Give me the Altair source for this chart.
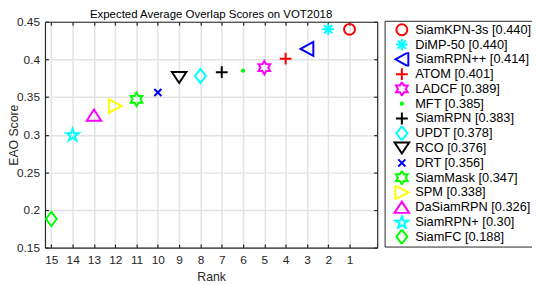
import altair as alt
import pandas as pd

# ---- data ----
names = ["SiamKPN-3s", "DiMP-50", "SiamRPN++", "ATOM", "LADCF", "MFT", "SiamRPN",
         "UPDT", "RCO", "DRT", "SiamMask", "SPM", "DaSiamRPN", "SiamRPN+", "SiamFC"]
ranks = [1, 2, 3, 4, 5, 6, 7, 8, 9, 10, 11, 12, 13, 14, 15]
scores = [0.440, 0.440, 0.414, 0.401, 0.389, 0.385, 0.383, 0.378, 0.376, 0.356,
          0.347, 0.338, 0.326, 0.30, 0.188]
score_text = ["0.440", "0.440", "0.414", "0.401", "0.389", "0.385", "0.383", "0.378",
              "0.376", "0.356", "0.347", "0.338", "0.326", "0.30", "0.188"]
colors = ["#FF0000", "#00FFFF", "#0000FF", "#FF0000", "#FF00FF", "#00FF00", "#000000",
          "#00FFFF", "#000000", "#0000FF", "#00FF00", "#FFFF00", "#FF00FF", "#00FFFF", "#00FF00"]
x_ticks = list(range(1, 16))
y_ticks = [0.15, 0.2, 0.25, 0.3, 0.35, 0.4, 0.45]

# marker shapes (SVG paths, unit ~ 6.5px)
circle = "M0,-0.85A0.85,0.85 0 1,1 0,0.85A0.85,0.85 0 1,1 0,-0.85Z"
asterisk = "M0,-0.9L0,0.9M-0.9,0L0.9,0M-0.64,-0.64L0.64,0.64M-0.64,0.64L0.64,-0.64"
tri_left = "M-1,0L1,-1.1L1,1.1Z"
plus = "M0,-0.92L0,0.92M-0.92,0L0.92,0"
hexagram = ("M0,-1.05L0.303,-0.525L0.909,-0.525L0.606,0L0.909,0.525L0.303,0.525"
            "L0,1.05L-0.303,0.525L-0.909,0.525L-0.606,0L-0.909,-0.525L-0.303,-0.525Z")
dot = "M0,-0.18A0.18,0.18 0 1,1 0,0.18A0.18,0.18 0 1,1 0,-0.18Z"
diamond = "M0,-1.1L0.85,0L0,1.1L-0.85,0Z"
tri_down = "M-1.13,-0.85L1.13,-0.85L0,0.85Z"
xcross = "M-0.55,-0.55L0.55,0.55M-0.55,0.55L0.55,-0.55"
tri_right = "M1,0L-1,-1.05L-1,1.05Z"
tri_up = "M0,-0.87L1.13,0.87L-1.13,0.87Z"
pentagram = ("M0,-0.92L0.23,-0.22L0.97,-0.22L0.37,0.22L0.6,0.92L0,0.49L-0.6,0.92"
             "L-0.37,0.22L-0.97,-0.22L-0.23,-0.22Z")
shapes = [circle, asterisk, tri_left, plus, hexagram, dot, plus, diamond, tri_down,
          xcross, hexagram, tri_right, tri_up, pentagram, diamond]

labels = [f"{n} [{s}]" for n, s in zip(names, score_text)]
df = pd.DataFrame({"label": labels, "rank": ranks, "score": scores})

W, H = 337, 229
FONT = "Liberation Sans"
TXT = "#262626"

xscale = alt.Scale(domain=[-0.3, 15.3], reverse=True, nice=False, zero=False)
yscale = alt.Scale(domain=[0.15, 0.45], nice=False, zero=False)

legend = alt.Legend(
    title=None, orient="none", legendX=344.5, legendY=-1,
    symbolSize=172, symbolStrokeWidth=2, labelFontSize=13, labelFont=FONT,
    labelColor="#000000", strokeColor="#262626", fillColor="#ffffff",
    padding=1.8, rowPadding=0, clipHeight=14.64, symbolOffset=7.7, labelOffset=5.5,
    labelLimit=300, labelExpr="datum.label + ' '",
)

points = alt.Chart(df).mark_point(filled=False, strokeWidth=2, size=169, opacity=1).encode(
    x=alt.X("rank:Q", scale=xscale, axis=alt.Axis(
        values=x_ticks, title="Rank", ticks=False, domain=False, grid=True,
        gridColor="#e3e3e3", gridWidth=1.5, labelPadding=7, labelFontSize=12,
        labelFont=FONT, labelColor=TXT, titleFont=FONT, titleFontSize=12.4,
        titleFontWeight="normal", titleColor=TXT, titleBaseline="alphabetic",
        titleY=33.5, labelFlush=False)),
    y=alt.Y("score:Q", scale=yscale, axis=alt.Axis(
        values=y_ticks, format=".2~f", title="EAO Score", ticks=False, domain=False,
        grid=True, gridColor="#e3e3e3", gridWidth=1.5, labelPadding=5.5,
        labelFontSize=12, labelFont=FONT, labelColor=TXT, titleFont=FONT,
        titleFontSize=12.4, titleFontWeight="normal", titleColor=TXT,
        titleBaseline="alphabetic", titleX=-27.5, labelFlush=False)),
    color=alt.Color("label:N", scale=alt.Scale(domain=labels, range=colors),
                    sort=labels, legend=legend),
    shape=alt.Shape("label:N", scale=alt.Scale(domain=labels, range=shapes),
                    sort=labels, legend=legend),
)

def tick_axis(orient, offset, vals):
    return alt.Axis(orient=orient, offset=offset, values=vals, labels=False,
                    grid=False, domain=True, domainColor="#262626", domainWidth=1.2,
                    ticks=True, tickSize=3.5, tickColor="#262626", tickWidth=1.2,
                    title=None)

ticks_a = alt.Chart(df).mark_point(opacity=0).encode(
    x=alt.X("rank:Q", scale=xscale, axis=tick_axis("top", -H, x_ticks)),
    y=alt.Y("score:Q", scale=yscale, axis=tick_axis("right", -W, y_ticks)),
)
ticks_b = alt.Chart(df).mark_point(opacity=0).encode(
    x=alt.X("rank:Q", scale=xscale, axis=tick_axis("bottom", -H, x_ticks)),
    y=alt.Y("score:Q", scale=yscale, axis=tick_axis("left", -W, y_ticks)),
)

chart = alt.layer(points, ticks_a, ticks_b).resolve_axis(
    x="independent", y="independent"
).properties(
    width=W, height=H,
    title=alt.TitleParams("Expected Average Overlap Scores on VOT2018", fontSize=11.6,
                          fontWeight="normal", font=FONT, color="#000000",
                          offset=-14, baseline="alphabetic", anchor="middle",
                          frame="group"),
    autosize=alt.AutoSizeParams(type="none"),
    padding={"left": 37.5, "top": 12, "right": 157, "bottom": 36},
).configure_view(stroke="transparent")

chart.save("out.html", embed_options={"renderer": "svg", "actions": False})
